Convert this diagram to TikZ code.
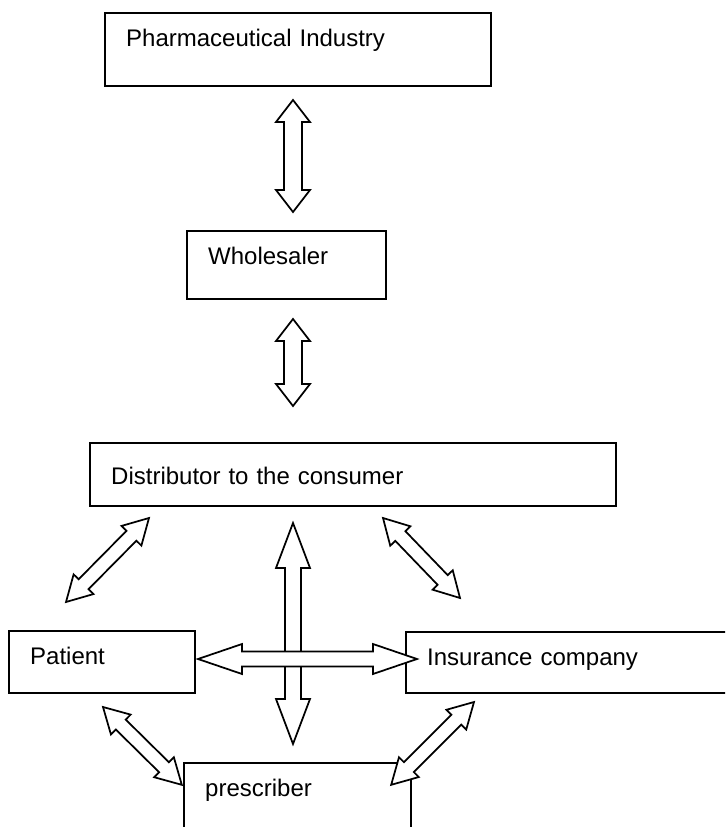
\documentclass[tikz,border=0pt]{standalone}
\usepackage{fontspec}
\setmainfont{Liberation Sans}
\usetikzlibrary{calc}

% hollow double-headed block arrow: from, to, head length, head half-width, shaft half-width (pt)
\newcommand\dblarrow[5]{%
  \path[arrowline] let \p1=(#1), \p2=(#2),
      \n1={atan2(\y2-\y1,\x2-\x1)}, \n2={veclen(\x2-\x1,\y2-\y1)} in
    [shift={(\p1)}, rotate=\n1]
    (0pt,0pt) -- (#3pt,#4pt) -- (#3pt,#5pt) -- ({(\n2-#3)*1pt},#5pt)
    -- ({(\n2-#3)*1pt},#4pt) -- ({\n2*1pt},0pt) -- ({(\n2-#3)*1pt},-#4pt)
    -- ({(\n2-#3)*1pt},-#5pt) -- (#3pt,-#5pt) -- (#3pt,-#4pt) -- cycle;
}

\tikzset{
  box/.style={draw, line width=1.3pt, anchor=north west, align=left,
    inner xsep=16pt, inner ysep=0pt, text height=25pt,
    font=\fontsize{18pt}{22pt}\selectfont},
  arrowline/.style={draw, fill=white, line width=1.3pt, line join=miter},
}

\begin{document}
\begin{tikzpicture}[x=0.75pt,y=-0.75pt]
  \clip (0,0) rectangle (725,827);
  \fill[white] (0,0) rectangle (725,827);

  % boxes
  \node[box, text width=257.5pt, text depth=29.75pt] (pharma) at (104,12) {Pharmaceutical Industry};
  \node[box, text width=117.25pt, text depth=26pt] (wholesaler) at (186,230) {Wholesaler};
  \node[box, text width=362.5pt, text height=31pt, text depth=16.25pt] (distributor) at (89,442) {Distributor to the consumer};
  \node[box, text width=107.5pt, text depth=21.5pt] (patient) at (8,630) {Patient};
  \node[box, text width=223pt, text depth=20.75pt] (insurer) at (405,631) {Insurance company};
  \node[box, text width=138.25pt, text depth=42.5pt] (prescriber) at (183,762) {prescriber};

  % arrow ends
  \coordinate (pharmaS) at (293,100);   \coordinate (wholeN) at (293,212);
  \coordinate (wholeS) at (293,319);    \coordinate (distN) at (293,406);
  \coordinate (distS) at (293,523);     \coordinate (prescN) at (293,744);
  \coordinate (patE) at (198,659);      \coordinate (insW) at (417,659);
  \coordinate (distSW) at (149,518);    \coordinate (patNE) at (66,602);
  \coordinate (distSE) at (383,518);    \coordinate (insNW) at (460,598);
  \coordinate (patSE) at (103,707);     \coordinate (prescNW) at (182,785);
  \coordinate (insSW) at (474,702);     \coordinate (prescNE) at (391,785);

  % arrows
  \dblarrow{pharmaS}{wholeN}{16.5}{12.75}{6.75}
  \dblarrow{wholeS}{distN}{16.5}{12.75}{6.75}
  \dblarrow{distS}{prescN}{33.75}{12.75}{6}
  \dblarrow{patE}{insW}{33}{11.25}{5.6}
  \dblarrow{distSW}{patNE}{18.75}{10.5}{5.25}
  \dblarrow{distSE}{insNW}{18.75}{10.5}{5.25}
  \dblarrow{patSE}{prescNW}{18.75}{10.5}{5.25}
  \dblarrow{insSW}{prescNE}{18.75}{10.5}{5.25}
\end{tikzpicture}
\end{document}
